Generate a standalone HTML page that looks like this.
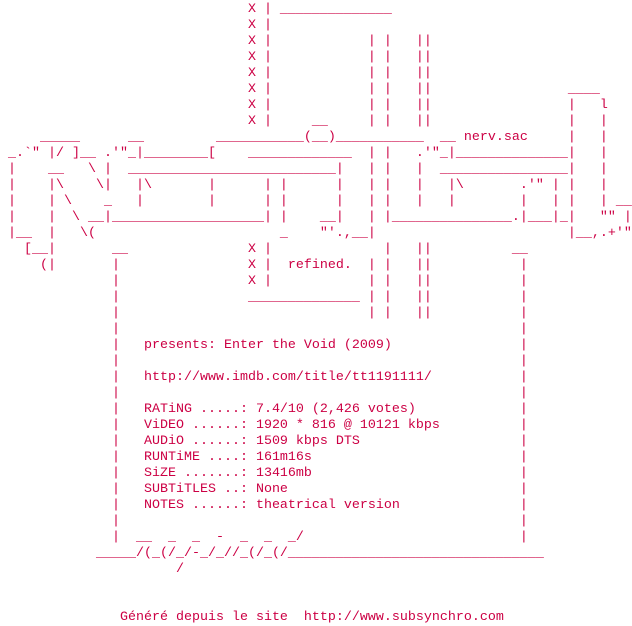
<!DOCTYPE html>
<html><head><meta charset="utf-8"><style>
html,body{margin:0;padding:0;background:#fff;width:632px;height:624px;overflow:hidden}
pre{margin:0;position:absolute;left:0;top:2px;font-family:"Liberation Mono",monospace;font-size:13.33px;line-height:16px;color:#cc0044;white-space:pre}
</style></head><body><pre>                               X | ______________
                               X |
                               X |            | |   ||
                               X |            | |   ||
                               X |            | |   ||
                               X |            | |   ||                 ____
                               X |            | |   ||                 |   l
                               X |     __     | |   ||                 |   |
     _____      __         ___________(__)___________  __ nerv.sac     |   |
 _.`" |/ ]__ .'"_|________[    _____________  | |   .'"_|______________|   |
 |    __   \ |  __________________________|   | |   |  ________________|   |
 |    |\    \|   |\       |      | |      |   | |   |   |\       .'" | |   |
 |    | \    _   |        |      | |      |   | |   |   |        |   | |   | __
 |    |  \ __|___________________| |    __|   | |_______________.|___|_|   "" |
 |__  |   \(                       _    "'.,__|                        |__,.+'"
   [__|       __               X |              |   ||          __
     (|       |                X |  refined.  | |   ||           |
              |                X |            | |   ||           |
              |                ______________ | |   ||           |
              |                               | |   ||           |
              |                                                  |
              |   presents: Enter the Void (2009)                |
              |                                                  |
              |   http://www.imdb.com/title/tt1191111/           |
              |                                                  |
              |   RATiNG .....: 7.4/10 (2,426 votes)             |
              |   ViDEO ......: 1920 * 816 @ 10121 kbps          |
              |   AUDiO ......: 1509 kbps DTS                    |
              |   RUNTiME ....: 161m16s                          |
              |   SiZE .......: 13416mb                          |
              |   SUBTiTLES ..: None                             |
              |   NOTES ......: theatrical version               |
              |                                                  |
              |  __  _  _  -  _  _  _/                           |
            _____/(_(/_/-_/_//_(/_(/________________________________
                      /


               Généré depuis le site  http://www.subsynchro.com</pre></body></html>
